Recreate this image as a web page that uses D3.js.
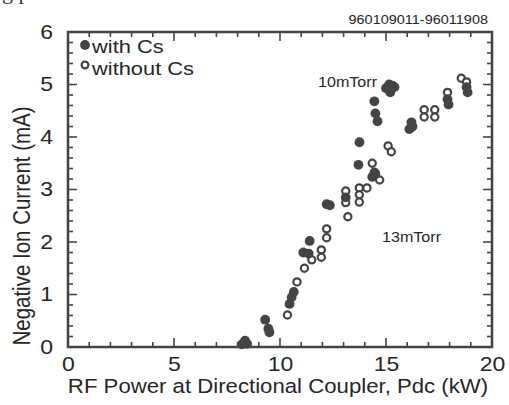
<!DOCTYPE html>
<html><head><meta charset="utf-8">
<script src="https://cdn.jsdelivr.net/npm/d3@7"></script>
<style>body{margin:0;background:#fff}svg{display:block}</style>
</head><body>
<script>
const withCsX = [8.2,8.35,8.45,9.3,9.45,9.5,10.45,10.55,10.65,11.1,11.35,11.4,12.2,12.35,13.1,13.7,13.75,14.35,14.5,14.45,14.5,14.6,15.0,15.15,15.3,15.4,15.2,16.1,16.2,16.25,17.9,17.95,18.8,18.85];
const withCsY = [0.05,0.12,0.06,0.52,0.35,0.28,0.82,0.95,1.05,1.8,1.78,2.02,2.72,2.7,2.85,3.47,3.9,3.24,3.3,4.68,4.45,4.3,4.93,5.0,4.98,4.95,4.85,4.15,4.28,4.2,4.72,4.62,4.95,4.85];
const withoutCsX = [10.35,10.8,11.15,11.5,11.95,11.95,12.2,12.2,13.1,13.1,13.2,13.74,13.74,13.74,14.1,14.35,14.45,14.7,15.1,15.25,16.8,17.3,16.8,17.3,17.9,18.55,18.8];
const withoutCsY = [0.61,1.24,1.5,1.66,1.85,1.71,2.25,2.08,2.97,2.75,2.48,3.03,2.9,2.76,3.03,3.5,3.33,3.18,3.83,3.72,4.52,4.52,4.38,4.38,4.85,5.12,5.05];
const xTicks = [0,5,10,15,20];
const yTicks = [0,1,2,3,4,5,6];
const legendLabels = ["with Cs","without Cs"];

const W=509,H=405, L=68,R=492,T=32,B=347;
const ink="#444", txt="#262626", SX=1.15;
const svg=d3.select("body").append("svg").attr("width",W).attr("height",H);
const x=d3.scaleLinear().domain([0,20]).range([L,R]);
const y=d3.scaleLinear().domain([0,6]).range([B,T]);
const font="'Liberation Sans', Arial, sans-serif";

function label(px,py,str,size,anchor,rot){
  return svg.append("text")
    .attr("transform",`translate(${px},${py})`+(rot?` rotate(${rot})`:"")+(rot?` scale(1,${SX})`:` scale(${SX},1)`))
    .attr("text-anchor",anchor||"start").attr("font-family",font).attr("font-size",size).attr("fill",txt).text(str);
}

// clipped caption remnants at very top
svg.append("text").attr("x",2).attr("y",-1).attr("font-family","'Liberation Serif', serif").attr("font-size",22).attr("fill","#333").text("g  p");

// ticks
const gx=svg.append("g");
d3.range(0,21,1).forEach(v=>{
  const len = v%5===0?9:5;
  gx.append("line").attr("x1",x(v)).attr("x2",x(v)).attr("y1",B).attr("y2",B-len).attr("stroke",ink).attr("stroke-width",1.6);
  gx.append("line").attr("x1",x(v)).attr("x2",x(v)).attr("y1",T).attr("y2",T+len).attr("stroke",ink).attr("stroke-width",1.6);
});
d3.range(0,6.01,0.2).forEach(v=>{
  const major=Math.abs(v-Math.round(v))<1e-6;
  const len = major?9:5;
  gx.append("line").attr("x1",L).attr("x2",L+len).attr("y1",y(v)).attr("y2",y(v)).attr("stroke",ink).attr("stroke-width",1.6);
  gx.append("line").attr("x1",R).attr("x2",R-len).attr("y1",y(v)).attr("y2",y(v)).attr("stroke",ink).attr("stroke-width",1.6);
});
svg.append("rect").attr("x",L).attr("y",T).attr("width",R-L).attr("height",B-T).attr("fill","none").attr("stroke",ink).attr("stroke-width",2.5);

// tick labels via axes
const xAxis=d3.axisBottom(x).tickValues(xTicks).tickSize(0).tickPadding(10).tickFormat(d3.format("d"));
const ga=svg.append("g").attr("transform",`translate(0,${B})`).call(xAxis);
ga.select(".domain").remove();
ga.selectAll("text").attr("font-family",font).attr("font-size",20).attr("fill",txt).attr("x",0).attr("transform",`scale(${SX},1)`);
const yAxis=d3.axisLeft(y).tickValues(yTicks).tickSize(0).tickPadding(15).tickFormat(d3.format("d"));
const gy=svg.append("g").attr("transform",`translate(${L},0)`).call(yAxis);
gy.select(".domain").remove();
gy.selectAll("text").attr("font-family",font).attr("font-size",20).attr("fill",txt);
gy.selectAll(".tick").each(function(){
  const t=d3.select(this).select("text");
  const xx=+t.attr("x");
  t.attr("x",xx/SX).attr("transform",`scale(${SX},1)`);
});

// axis titles
label(278,393,"RF Power at Directional Coupler, Pdc (kW)",19.3,"middle");
label(30,226,"Negative Ion Current (mA)",20.5,"middle",-90);

// annotations
label(488,24,"960109011-96011908",12.6,"end");
label(318,87,"10mTorr",14,"start");
label(382,242,"13mTorr",14,"start");

// data
const filled=withCsX.map((v,i)=>[v,withCsY[i]]);
const open=withoutCsX.map((v,i)=>[v,withoutCsY[i]]);
svg.append("g").selectAll("circle").data(open).join("circle")
  .attr("cx",d=>x(d[0])).attr("cy",d=>y(d[1])).attr("r",3.6)
  .attr("fill","#fff").attr("stroke",ink).attr("stroke-width",2.2);
svg.append("g").selectAll("circle").data(filled).join("circle")
  .attr("cx",d=>x(d[0])).attr("cy",d=>y(d[1])).attr("r",4.9)
  .attr("fill",ink);

// legend
svg.append("circle").attr("cx",85).attr("cy",45).attr("r",4.9).attr("fill",ink);
svg.append("circle").attr("cx",85).attr("cy",65).attr("r",3.4).attr("fill","#fff").attr("stroke",ink).attr("stroke-width",2.2);
label(92,53,legendLabels[0],19,"start");
label(92,75,legendLabels[1],19,"start");
</script>
</body></html>
